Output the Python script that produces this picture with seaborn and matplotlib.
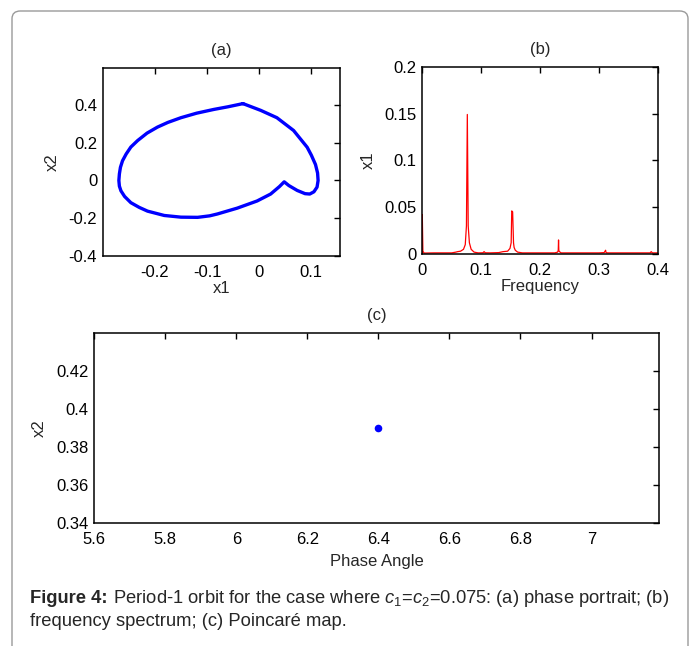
import numpy as np
import pandas as pd
import matplotlib
matplotlib.use("Agg")
import matplotlib.pyplot as plt
from matplotlib.patches import FancyBboxPatch
import seaborn as sns

# ---------------- data ----------------
# (a) phase portrait
phase_x1 = [-0.031, -0.060, -0.087, -0.120, -0.150, -0.175, -0.195, -0.215, -0.233, -0.246,
            -0.255, -0.262, -0.266, -0.268, -0.269, -0.268, -0.265, -0.258, -0.246, -0.230,
            -0.214, -0.182, -0.150, -0.118, -0.095, -0.080, -0.042, -0.004, 0.022, 0.039,
            0.048, 0.057, 0.073, 0.088, 0.097, 0.105, 0.111, 0.113, 0.112, 0.108, 0.100,
            0.092, 0.066, 0.034, 0.003, -0.031]
phase_x2 = [0.409, 0.392, 0.378, 0.358, 0.334, 0.309, 0.284, 0.252, 0.2125, 0.178,
            0.141, 0.105, 0.070, 0.035, 0.000, -0.030, -0.055, -0.085, -0.118, -0.143,
            -0.163, -0.186, -0.195, -0.196, -0.188, -0.178, -0.147, -0.109, -0.072, -0.032,
            -0.007, -0.027, -0.053, -0.070, -0.072, -0.060, -0.035, 0.000, 0.040, 0.085,
            0.135, 0.177, 0.266, 0.334, 0.373, 0.409]

# (b) frequency spectrum
spec_freq = [0.0, 0.0, 0.001, 0.003, 0.02, 0.05, 0.057, 0.060, 0.065, 0.070, 0.073, 0.075,
             0.0765, 0.078, 0.080, 0.083, 0.088, 0.095, 0.103, 0.105, 0.107, 0.115, 0.130,
             0.137, 0.145, 0.149, 0.151, 0.152, 0.1535, 0.155, 0.156, 0.158, 0.162, 0.17,
             0.20, 0.225, 0.230, 0.231, 0.2315, 0.232, 0.2325, 0.234, 0.236, 0.25, 0.30,
             0.309, 0.3115, 0.312, 0.3125, 0.315, 0.35, 0.387, 0.389, 0.391, 0.4]
spec_amp = [0.0, 0.042, 0.003, 0.001, 0.0012, 0.0012, 0.002, 0.0025, 0.003, 0.005, 0.010, 0.030,
            0.149, 0.030, 0.012, 0.005, 0.002, 0.0012, 0.0013, 0.0025, 0.0013, 0.0012, 0.0015,
            0.0025, 0.003, 0.006, 0.012, 0.046, 0.045, 0.012, 0.007, 0.004, 0.002, 0.0012,
            0.0012, 0.0012, 0.002, 0.004, 0.015, 0.004, 0.003, 0.002, 0.0012, 0.0012, 0.0012,
            0.0015, 0.004, 0.002, 0.0015, 0.0012, 0.0012, 0.0012, 0.0025, 0.0012, 0.0012]

# (c) Poincare map
poincare_angle = [6.4]
poincare_x2 = [0.39]

# tick labels
a_xticks = [-0.2, -0.1, 0.0, 0.1]
a_xticklabels = ["-0.2", "-0.1", "0", "0.1"]
a_yticks = [-0.4, -0.2, 0.0, 0.2, 0.4]
a_yticklabels = ["-0.4", "-0.2", "0", "0.2", "0.4"]
b_xticks = [0.0, 0.1, 0.2, 0.3, 0.4]
b_xticklabels = ["0", "0.1", "0.2", "0.3", "0.4"]
b_yticks = [0.0, 0.05, 0.1, 0.15, 0.2]
b_yticklabels = ["0", "0.05", "0.1", "0.15", "0.2"]
c_xticks = [5.6, 5.8, 6.0, 6.2, 6.4, 6.6, 6.8, 7.0]
c_xticklabels = ["5.6", "5.8", "6", "6.2", "6.4", "6.6", "6.8", "7"]
c_yticks = [0.34, 0.36, 0.38, 0.40, 0.42]
c_yticklabels = ["0.34", "0.36", "0.38", "0.4", "0.42"]

caption_bold = "Figure 4:"
caption_line1 = r" Period-1 orbit for the case where $c_1$=$c_2$=0.075: (a) phase portrait; (b)"
caption_line2 = "frequency spectrum; (c) Poincaré map."

# ---------------- style ----------------
sns.set_style("white")
plt.rcParams.update({
    "font.family": ["Liberation Sans", "DejaVu Sans"],
    "axes.unicode_minus": False,
    "mathtext.fontset": "custom",
    "mathtext.rm": "Liberation Sans",
    "mathtext.it": "Liberation Sans:italic",
    "mathtext.bf": "Liberation Sans:bold",
    "axes.edgecolor": "black",
    "axes.linewidth": 1.1,
})
FS = 12
CFS = 13.2

fig = plt.figure(figsize=(6.94, 6.46), dpi=100)
W, H = 694.0, 646.0

def add_ax(l, t, r, b):
    return fig.add_axes([l / W, (H - b) / H, (r - l) / W, (b - t) / H])

ax_a = add_ax(102.7, 67.7, 340.0, 255.7)
ax_b = add_ax(422.3, 66.7, 657.7, 254.0)
ax_c = add_ax(94.3, 332.7, 659.0, 522.7)

def style(ax):
    ax.tick_params(direction="in", length=4, width=1, top=True, right=True,
                   labelsize=FS, colors="black")
    ax.tick_params(axis="x", pad=6.5)
    ax.tick_params(axis="y", pad=4)
    for s in ax.spines.values():
        s.set_visible(True)
        s.set_color("black")

# (a)
df_a = pd.DataFrame({"x1": phase_x1, "x2": phase_x2})
sns.lineplot(data=df_a, x="x1", y="x2", sort=False, estimator=None, ax=ax_a,
             color="#0000ff", linewidth=2.4)
ax_a.set_xlim(-0.3, 0.155)
ax_a.set_ylim(-0.4, 0.6)
ax_a.set_xticks(a_xticks, a_xticklabels)
ax_a.set_yticks(a_yticks, a_yticklabels)
ax_a.set_xlabel("x1", fontsize=FS, labelpad=1)
ax_a.set_ylabel("x2", fontsize=FS, labelpad=6)
ax_a.set_title("(a)", fontsize=FS, pad=9)
style(ax_a)

# (b)
df_b = pd.DataFrame({"Frequency": spec_freq, "x1": spec_amp})
sns.lineplot(data=df_b, x="Frequency", y="x1", sort=False, estimator=None, ax=ax_b,
             color="#ff0000", linewidth=0.9)
ax_b.set_xlim(0, 0.4)
ax_b.set_ylim(0, 0.2)
ax_b.set_xticks(b_xticks, b_xticklabels)
ax_b.set_yticks(b_yticks, b_yticklabels)
ax_b.set_xlabel("Frequency", fontsize=FS, labelpad=1)
ax_b.set_ylabel("x1", fontsize=FS, labelpad=6)
ax_b.set_title("(b)", fontsize=FS, pad=9)
style(ax_b)

# (c)
df_c = pd.DataFrame({"Phase Angle": poincare_angle, "x2": poincare_x2})
sns.scatterplot(data=df_c, x="Phase Angle", y="x2", ax=ax_c, color="#0000ff",
                s=30, edgecolor="#0000ff", linewidth=0)
ax_c.set_xlim(5.6, 7.19)
ax_c.set_ylim(0.34, 0.44)
ax_c.set_xticks(c_xticks, c_xticklabels)
ax_c.set_yticks(c_yticks, c_yticklabels)
ax_c.set_xlabel("Phase Angle", fontsize=FS, labelpad=5)
ax_c.set_ylabel("x2", fontsize=FS, labelpad=7)
ax_c.set_title("(c)", fontsize=FS, pad=9)
style(ax_c)

# caption
t_bold = fig.text(30 / W, (H - 603) / H, caption_bold, fontsize=CFS, fontweight="bold",
                  ha="left", va="baseline")
fig.canvas.draw()
bb = t_bold.get_window_extent(renderer=fig.canvas.get_renderer())
fig.text(bb.x1 / W, (H - 603) / H, caption_line1, fontsize=CFS, ha="left", va="baseline")
fig.text(30 / W, (H - 626) / H, caption_line2, fontsize=CFS, ha="left", va="baseline")

# outer frame
frame = FancyBboxPatch((12 / W, -10 / H), (688 - 12) / W, (H - 11 + 10) / H,
                       boxstyle="round,pad=0,rounding_size=0.012",
                       transform=fig.transFigure, facecolor="none",
                       edgecolor="#9a9a9a", linewidth=1.0, clip_on=False)
fig.patches.append(frame)

fig.savefig("out.png", dpi=100)
